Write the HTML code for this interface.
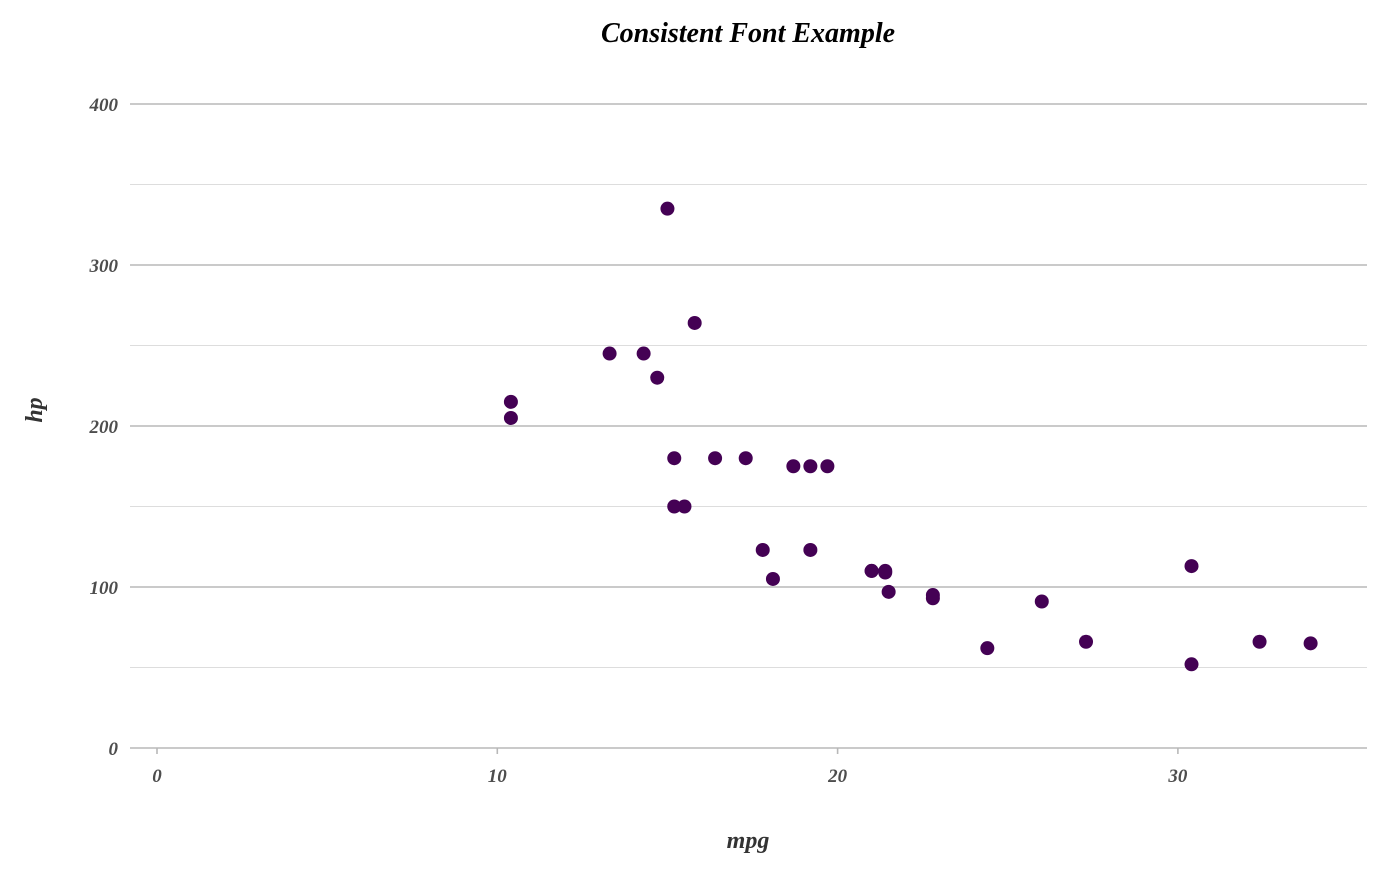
<!DOCTYPE html>
<html><head><meta charset="utf-8"><style>
body{margin:0;background:#fff;}
svg text{font-family:"Liberation Serif",serif;font-style:italic;}
</style></head><body>
<svg id="chart" width="1400" height="865">
<text x="748" y="42" text-anchor="middle" font-size="28" font-weight="bold" fill="#000">Consistent Font Example</text>
<text x="748" y="848" text-anchor="middle" font-size="24" font-weight="bold" fill="#333">mpg</text>
<text transform="translate(42,410) rotate(-90)" text-anchor="middle" font-size="24" font-weight="bold" fill="#333">hp</text>
<g id="grid"></g><g id="pts"></g>
</svg>
<script>
const mpg=[21,21,22.8,21.4,18.7,18.1,14.3,24.4,22.8,19.2,17.8,16.4,17.3,15.2,10.4,10.4,14.7,32.4,30.4,33.9,21.5,15.5,15.2,13.3,19.2,27.3,26,30.4,15.8,19.7,15,21.4];
const hp=[110,110,93,110,175,105,245,62,95,123,123,180,180,180,205,215,230,66,52,65,97,150,150,245,175,66,91,113,264,175,335,109];
const xTicks=[0,10,20,30];
const yTicks=[0,100,200,300,400];
const yMinor=[50,150,250,350];
const NS="http://www.w3.org/2000/svg";
const X=v=>157+v*34.03, Y=v=>748-v*1.61;
const g=document.getElementById('grid'), p=document.getElementById('pts');
function mk(tag,a,parent){const e=document.createElementNS(NS,tag);for(const k in a)e.setAttribute(k,a[k]);parent.appendChild(e);return e;}
yMinor.forEach(v=>{const l=mk('line',{x1:130,x2:1367,y1:Y(v),y2:Y(v),stroke:'#dddddd','stroke-width':1},g);

});
yTicks.forEach(v=>{const l=mk('line',{x1:130,x2:1367,y1:Y(v),y2:Y(v),stroke:'#b8b8b8','stroke-width':1.6},g);


const t=mk('text',{x:118,y:Y(v)+7,'text-anchor':'end','font-size':19,'font-weight':'600',fill:'#4d4d4d'},g);t.textContent=v;

});
xTicks.forEach(v=>{const l=mk('line',{x1:X(v),x2:X(v),y1:748,y2:754,stroke:'#b8b8b8','stroke-width':1.6},g);


const t=mk('text',{x:X(v),y:782,'text-anchor':'middle','font-size':19,'font-weight':'600',fill:'#4d4d4d'},g);t.textContent=v;

});
mpg.forEach((m,i)=>{const c=mk('circle',{cx:X(m),cy:Y(hp[i]),r:7,fill:'#440154'},p);

});
</script>
</body></html>
